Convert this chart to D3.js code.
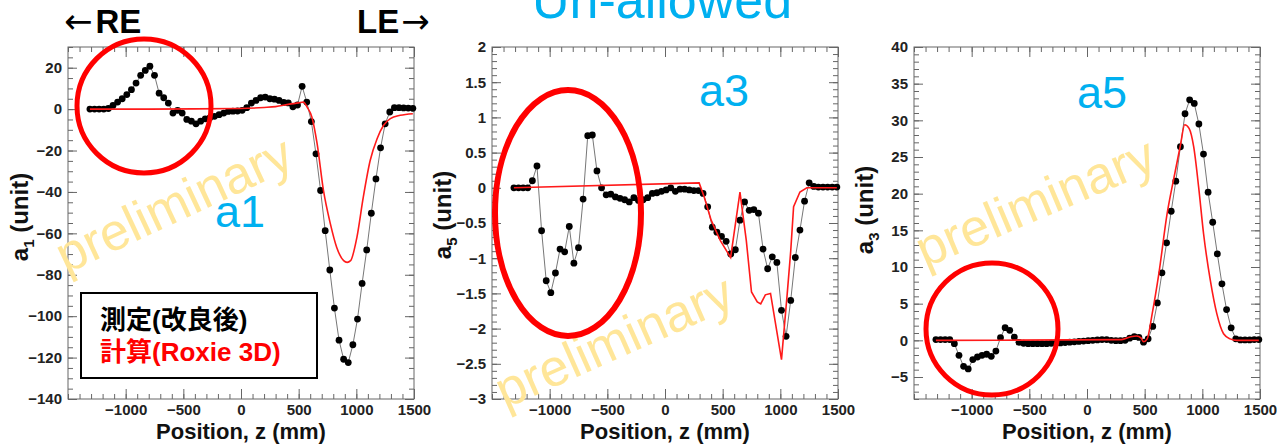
<!DOCTYPE html>
<html>
<head>
<meta charset="utf-8">
<script src="https://cdn.jsdelivr.net/npm/d3@7"></script>
<style>
  body { margin: 0; background: #fff; }
  svg { display: block; font-family: 'Liberation Sans', Arial, 'Noto Sans CJK JP', sans-serif; }
  .tick text { font-size: 15px; font-weight: bold; fill: #222; }
  .tick line { stroke: #666; }
</style>
</head>
<body>
<svg id="chart"></svg>
<script>
const WIDTH = 1277;
const HEIGHT = 446;

// Measurement positions (mm), shared by the three panels.
const zPos = [
  -1310, -1270, -1230, -1190, -1150, -1110, -1070, -1030, -990, -950,
  -910, -870, -830, -790, -750, -710, -670, -630, -590, -550,
  -510, -470, -430, -390, -350, -310, -270, -230, -190, -150,
  -110, -70, -30, 10, 50, 90, 130, 170, 210, 250,
  290, 330, 370, 410, 450, 490, 530, 570, 610, 650,
  690, 730, 770, 810, 850, 890, 930, 970, 1010, 1050,
  1090, 1130, 1170, 1210, 1250, 1290, 1330, 1370, 1410, 1450, 1490
];

// Measured a1 (left panel).
const measA1 = [
  0, 0, 0, 0, 0.3, 1.8, 3.4, 5.0, 7.0, 9.4,
  12.6, 16.3, 18.7, 20.7, 16.3, 7.7, 5.5, 2.9, -1.9, -0.6,
  -1.9, -5.0, -5.8, -7.1, -5.8, -4.7, -4.2, -3.5, -2.7, -1.9,
  -1.1, -1.0, -0.9, -0.6, 0.7, 2.9, 4.2, 5.5, 5.8, 5.0,
  4.8, 4.2, 3.2, 3.0, 1.1, 2.0, 11.0, 3.4, -6.0, -21.6,
  -39.3, -58.7, -77.7, -96.1, -111.6, -120.8, -122.4, -113.8, -101.4, -84.2,
  -68.0, -50.3, -33.7, -18.7, -7.1, -1.4, 0.7, 0.7, 0.6, 0.5, 0.4
];

// Measured a5 (middle panel).
const measA5 = [
  0, 0, 0, 0, 0.10, 0.31, -0.61, -1.32, -1.49, -1.21,
  -0.87, -0.91, -0.55, -1.07, -0.85, -0.16, 0.74, 0.75, 0.24, 0.0,
  -0.10, -0.09, -0.13, -0.15, -0.17, -0.20, -0.14, -0.18, -0.17, -0.14,
  -0.08, -0.07, -0.05, -0.03, 0.0, -0.05, -0.02, -0.02, -0.03, -0.04,
  -0.04, -0.08, -0.27, -0.56, -0.63, -0.69, -0.76, -0.94, -0.88, -0.46,
  -0.20, -0.32, -0.31, -0.36, -0.87, -1.15, -0.98, -1.06, -1.74, -2.11,
  -1.60, -0.99, -0.60, -0.19, 0.07, 0.02, 0.01, 0.01, 0.01, 0.01, 0.01
];

// Measured a3 (right panel).
const measA3 = [
  0.1, 0.1, 0.1, 0.1, -0.45, -2.05, -3.55, -3.9, -2.63, -2.27,
  -2.05, -1.9, -2.18, -1.46, 0.36, 1.73, 1.36, 0.45, -0.27, -0.4,
  -0.45, -0.45, -0.45, -0.45, -0.45, -0.4, -0.4, -0.35, -0.3, -0.25,
  -0.2, -0.15, -0.1, -0.05, 0.0, 0.05, 0.1, 0.1, 0.0, -0.05,
  -0.05, 0.0, 0.3, 0.5, 0.4, -0.25, 0.2, 1.9, 5.1, 9.2,
  13.3, 17.6, 21.7, 26.4, 30.9, 32.8, 32.3, 29.5, 25.4, 20.2,
  16.1, 11.8, 7.7, 4.2, 1.7, 0.2, 0.05, 0.05, 0.05, 0.1, 0.1
];

// Roxie 3D calculations.
const calcZ1 = [-1310, -800, -400, 0, 200, 300, 420, 500, 540, 575, 615, 660, 715, 775, 830, 890, 920, 950, 1005, 1060, 1120, 1180, 1235, 1295, 1380, 1490];
const calcA1 = [0, 0, 0.1, 0.3, 0.8, 1.2, 2.4, 3.0, 3.4, 0.8, -3.9, -16.7, -39.3, -55.4, -66.8, -73.2, -74.0, -73.2, -61.9, -42.6, -24.8, -14.3, -7.9, -4.6, -3.0, -2.2];

const calcZ5 = [-1310, 296, 340, 400, 480, 569, 650, 705, 750, 800, 830, 870, 915, 1010, 1060, 1090, 1115, 1170, 1230, 1490];
const calcA5 = [0, 0.07, -0.13, -0.46, -0.75, -0.99, -0.06, -0.75, -1.48, -1.62, -1.65, -1.52, -1.50, -2.44, -1.5, -0.9, -0.27, -0.06, 0, 0];

const calcZ3 = [-1310, 300, 380, 430, 470, 490, 522, 565, 623, 695, 753, 810, 847, 885, 925, 968, 1011, 1069, 1126, 1184, 1241, 1299, 1490];
const calcA3 = [0, 0.1, 0.5, 0.6, 0.3, -0.2, 0.2, 3.6, 9.1, 17.3, 22.1, 26.6, 29.4, 28.9, 26.4, 20.9, 14.5, 8.2, 3.6, 0.9, 0.2, 0, 0];

// Tick labels.
const xTicks = [-1000, -500, 0, 500, 1000, 1500];
const yTicksA1 = [-140, -120, -100, -80, -60, -40, -20, 0, 20];
const yTicksA5 = [-3, -2.5, -2, -1.5, -1, -0.5, 0, 0.5, 1, 1.5, 2];
const yTicksA3 = [-5, 0, 5, 10, 15, 20, 25, 30, 35, 40];

const CYAN = '#00b0f0';
const WATERMARK = '#ffe699';

const svg = d3.select('#chart')
  .attr('width', WIDTH)
  .attr('height', HEIGHT)
  .attr('viewBox', `0 0 ${WIDTH} ${HEIGHT}`);

const fmt = d3.format('~g');

function drawPanel(opt) {
  const w = 346;
  const h = 352;
  const g = svg.append('g').attr('transform', `translate(${opt.left},47)`);

  const x = d3.scaleLinear().domain([-1500, 1500]).range([0, w]);
  const y = d3.scaleLinear().domain(opt.yDomain).range([h, 0]);

  const xMinor = d3.range(-1500, 1501, 100);
  const yMinor = d3.range(opt.yDomain[0], opt.yDomain[1] + opt.yMinorStep / 2, opt.yMinorStep);

  const strip = s => s.select('.domain').remove();

  // minor ticks on all four sides
  g.append('g').call(d3.axisLeft(y).tickValues(yMinor).tickSize(-5).tickFormat('')).call(strip);
  g.append('g').attr('transform', `translate(${w},0)`)
    .call(d3.axisRight(y).tickValues(yMinor).tickSize(-5).tickFormat('')).call(strip);
  g.append('g').attr('transform', `translate(0,${h})`)
    .call(d3.axisBottom(x).tickValues(xMinor).tickSize(-5).tickFormat('')).call(strip);
  g.append('g').call(d3.axisTop(x).tickValues(xMinor).tickSize(-5).tickFormat('')).call(strip);

  // major ticks with labels
  g.append('g').call(d3.axisLeft(y).tickValues(opt.yTicks).tickSize(-9).tickPadding(6).tickFormat(fmt)).call(strip);
  g.append('g').attr('transform', `translate(${w},0)`)
    .call(d3.axisRight(y).tickValues(opt.yTicks).tickSize(-9).tickFormat('')).call(strip);
  g.append('g').attr('transform', `translate(0,${h})`)
    .call(d3.axisBottom(x).tickValues(xTicks).tickSize(-10).tickPadding(5).tickFormat(fmt)).call(strip);
  g.append('g').call(d3.axisTop(x).tickValues(xTicks).tickSize(-10).tickFormat('')).call(strip);

  g.selectAll('.tick text').attr('font-family', null);

  g.append('rect')
    .attr('width', w).attr('height', h)
    .attr('fill', 'none').attr('stroke', '#666').attr('stroke-width', 1);

  // axis titles
  svg.append('text')
    .attr('x', opt.left + w / 2).attr('y', 439)
    .attr('text-anchor', 'middle')
    .attr('font-size', 22).attr('font-weight', 'bold').attr('fill', '#111')
    .text('Position, z (mm)');

  const yt = svg.append('text')
    .attr('transform', `translate(${opt.titleX},${opt.titleY}) rotate(-90)`)
    .attr('text-anchor', 'middle')
    .attr('font-size', 24).attr('font-weight', 'bold').attr('fill', '#111');
  yt.append('tspan').text('a');
  yt.append('tspan').attr('font-size', 15).attr('dy', 6).text(opt.sub);
  yt.append('tspan').attr('dy', -6).text(' (unit)');

  // watermark
  svg.append('text')
    .attr('transform', `translate(${opt.wm[0]},${opt.wm[1]}) rotate(${opt.wm[2]})`)
    .attr('font-size', 52).attr('fill', WATERMARK)
    .text('preliminary');

  // measured data
  const meas = zPos.map((z, i) => [z, opt.meas[i]]);
  const line = d3.line().x(d => x(d[0])).y(d => y(d[1]));
  g.append('path')
    .datum(meas)
    .attr('d', line)
    .attr('fill', 'none').attr('stroke', '#777').attr('stroke-width', 1);
  g.selectAll('circle.pt')
    .data(meas)
    .enter()
    .append('circle')
    .attr('class', 'pt')
    .attr('cx', d => x(d[0]))
    .attr('cy', d => y(d[1]))
    .attr('r', 3.4)
    .attr('fill', '#000');

  // calculation
  const calc = opt.calcZ.map((z, i) => [z, opt.calcV[i]]);
  g.append('path')
    .datum(calc)
    .attr('d', d3.line().curve(opt.curve).x(d => x(d[0])).y(d => y(d[1])))
    .attr('fill', 'none').attr('stroke', '#ff1a1a').attr('stroke-width', 1.6);

  // panel label
  svg.append('text')
    .attr('x', opt.label[0]).attr('y', opt.label[1])
    .attr('font-size', 45).attr('fill', CYAN)
    .text(opt.name);
}

drawPanel({
  left: 68, yDomain: [-140, 30], yMinorStep: 5, yTicks: yTicksA1,
  meas: measA1, calcZ: calcZ1, calcV: calcA1, curve: d3.curveMonotoneX,
  sub: '1', titleX: 28, titleY: 217,
  wm: [66, 274, -25], label: [215, 227], name: 'a1'
});
drawPanel({
  left: 492, yDomain: [-3, 2], yMinorStep: 0.1, yTicks: yTicksA5,
  meas: measA5, calcZ: calcZ5, calcV: calcA5, curve: d3.curveLinear,
  sub: '5', titleX: 451, titleY: 215,
  wm: [505, 409, -24], label: [699, 106], name: 'a3'
});
drawPanel({
  left: 914, yDomain: [-8, 40], yMinorStep: 1, yTicks: yTicksA3,
  meas: measA3, calcZ: calcZ3, calcV: calcA3, curve: d3.curveMonotoneX,
  sub: '3', titleX: 873, titleY: 210,
  wm: [925, 268, -23], label: [1077, 108], name: 'a5'
});

// red highlight circles
svg.append('circle')
  .attr('cx', 144).attr('cy', 106).attr('r', 67)
  .attr('fill', 'none').attr('stroke', '#f00').attr('stroke-width', 5);
svg.append('ellipse')
  .attr('cx', 568).attr('cy', 213).attr('rx', 73).attr('ry', 123)
  .attr('fill', 'none').attr('stroke', '#f00').attr('stroke-width', 6);
svg.append('circle')
  .attr('cx', 992).attr('cy', 329).attr('r', 66)
  .attr('fill', 'none').attr('stroke', '#f00').attr('stroke-width', 5);

// legend box
svg.append('rect')
  .attr('x', 81).attr('y', 293).attr('width', 236).attr('height', 85)
  .attr('fill', '#fff').attr('stroke', '#000').attr('stroke-width', 2);
svg.append('text')
  .attr('x', 100).attr('y', 329)
  .attr('font-size', 26).attr('font-weight', 'bold').attr('fill', '#000')
  .text('測定(改良後)');
svg.append('text')
  .attr('x', 100).attr('y', 361)
  .attr('font-size', 26).attr('font-weight', 'bold').attr('fill', '#f00')
  .text('計算(Roxie 3D)');

// headings; the arrows use a wider glyph from DejaVu Sans
const re = svg.append('text')
  .attr('x', 64).attr('y', 33)
  .attr('font-size', 33).attr('font-weight', 'bold').attr('fill', '#000');
re.append('tspan').attr('font-family', 'DejaVu Sans').attr('font-weight', 'normal')
  .attr('font-size', 34).text('←');
re.append('tspan').attr('dx', 3).text('RE');

const le = svg.append('text')
  .attr('x', 357).attr('y', 33)
  .attr('font-size', 33).attr('font-weight', 'bold').attr('fill', '#000');
le.append('tspan').text('LE');
le.append('tspan').attr('font-family', 'DejaVu Sans').attr('font-weight', 'normal')
  .attr('font-size', 34).attr('dx', 2).text('→');

svg.append('text')
  .attr('x', 532).attr('y', 18)
  .attr('font-size', 52).attr('fill', CYAN)
  .text('Un-allowed');
</script>
</body>
</html>
